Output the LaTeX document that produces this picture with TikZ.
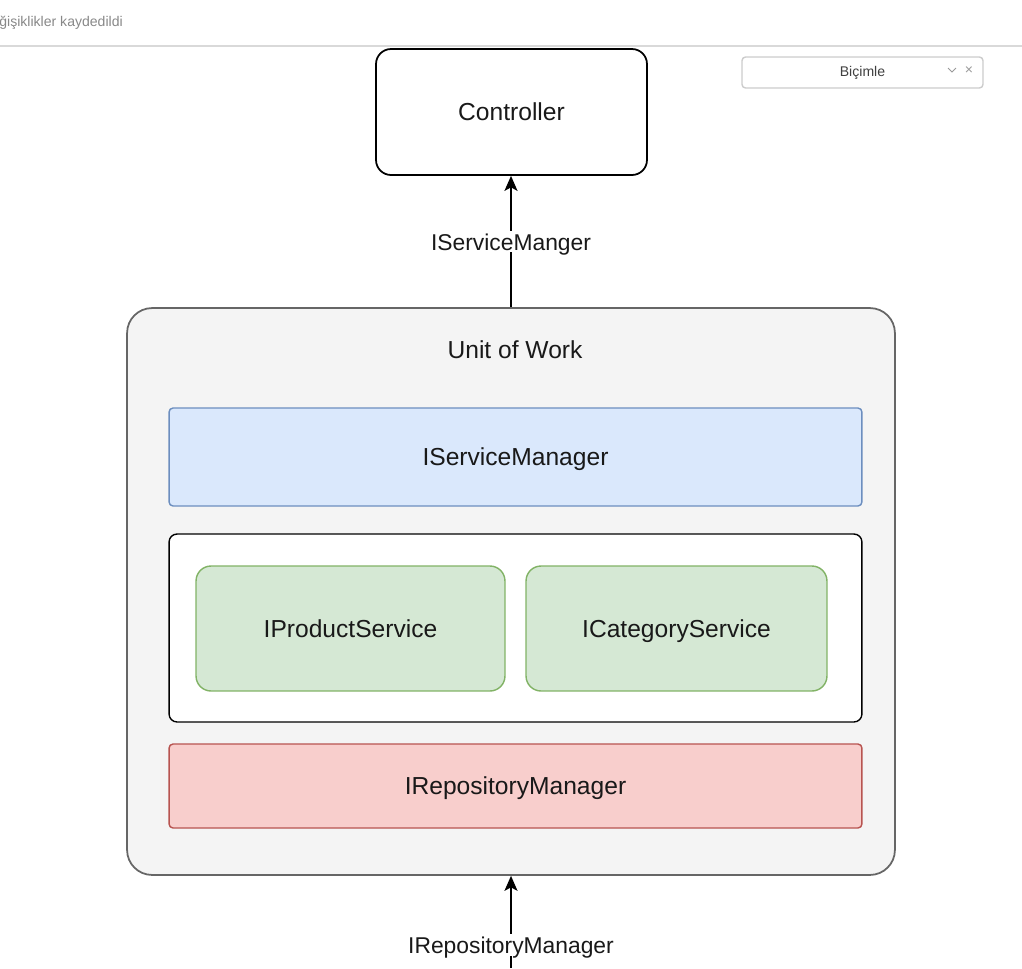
\documentclass[tikz,border=0pt]{standalone}
\usepackage{fontspec}
\setmainfont{Liberation Sans}
\usetikzlibrary{arrows.meta, positioning}
\definecolor{svcBlue}{HTML}{DAE8FC}
\definecolor{svcBlueLine}{HTML}{6C8EBF}
\definecolor{srvGreen}{HTML}{D5E8D4}
\definecolor{srvGreenLine}{HTML}{82B366}
\definecolor{repoRed}{HTML}{F8CECC}
\definecolor{repoRedLine}{HTML}{B85450}
\definecolor{uowGray}{HTML}{F4F4F4}
\definecolor{uowLine}{HTML}{666666}
\definecolor{uiGray}{HTML}{888888}

\begin{document}
\begin{tikzpicture}[x=0.02cm, y=-0.02cm,
		every node/.style={font=\fontsize{14pt}{16pt}\selectfont, text=black!90, text height=1em, text depth=0pt},
		box/.style={draw, line width=1pt, rounded corners=0.3cm, minimum width=5.42cm, minimum height=2.52cm},
		layer/.style={draw, line width=0.8pt, rounded corners=0.08cm, minimum width=13.86cm},
		service/.style={draw=srvGreenLine, fill=srvGreen, line width=0.8pt, rounded corners=0.3cm, minimum height=2.5cm},
		edgetext/.style={fill=white, inner sep=1pt, font=\fontsize{13pt}{15pt}\selectfont},
		link/.style={line width=1pt, -{Stealth[length=3mm, width=2.6mm, inset=0.7mm]}}]
	\useasboundingbox (0,0) rectangle (1022,968);
	% Editor top bar
	\node[anchor=west, inner sep=0pt, text=uiGray, font=\fontsize{8pt}{9pt}\selectfont, text height=, text depth=] (saved) at (-1,23) {ğişiklikler kaydedildi};
	\draw[black!15, line width=1.2pt] (0,46) -- (1022,46);
	% Format box
	\node[draw=black!20, fill=white, rounded corners=2pt, line width=0.8pt, minimum width=4.82cm, minimum height=0.62cm,
		text=black!75, font=\fontsize{8pt}{9pt}\selectfont, text height=, text depth=] (format) at (862.5,72.5) {Biçimle};
	\draw[black!40, line width=0.5pt] (948,68) -- (952,72) -- (956,68);
	\node[text=black!40, font=\fontsize{8pt}{9pt}\selectfont, inner sep=0pt, text height=, text depth=] (close) at (969,71) {×};
	% Controller
	\node[box] (ctrl) at (511.5,112) {Controller};
	% Unit of Work container
	\node[draw=uowLine, fill=uowGray, line width=1pt, rounded corners=0.5cm, minimum width=15.36cm, minimum height=11.34cm] (uow) at (511,591.5) {};
	\node (uowtitle) at (515,350) {Unit of Work};
	% Layers
	\node[layer, draw=svcBlueLine, fill=svcBlue, minimum height=1.96cm] (svcmgr) at (515.5,457) {IServiceManager};
	\node[layer, draw=black, fill=white, rounded corners=0.16cm, minimum height=3.76cm] (holder) at (515.5,628) {};
	\node[service, minimum width=6.18cm] (prod) at (350.5,628.5) {IProductService};
	\node[service, minimum width=6.02cm] (cat) at (676.5,628.5) {ICategoryService};
	\node[layer, draw=repoRedLine, fill=repoRed, minimum height=1.68cm] (repomgr) at (515.5,786) {IRepositoryManager};
	% Connectors
	\draw[link] (uow.north) -- node[edgetext] {IServiceManger} (ctrl.south -| uow.north);
	\coordinate (repoin) at (511,968);
	\draw[link] (repoin) -- node[edgetext, pos=0.25] {IRepositoryManager} (uow.south);
\end{tikzpicture}
\end{document}
